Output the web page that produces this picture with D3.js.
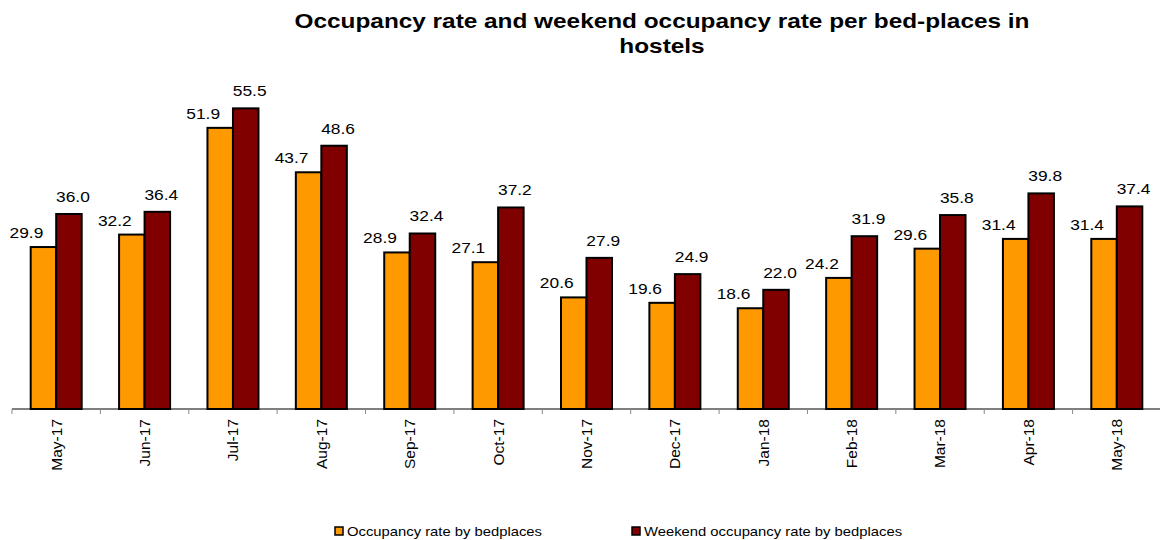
<!DOCTYPE html>
<html><head><meta charset="utf-8">
<script src="https://cdn.jsdelivr.net/npm/d3@7/dist/d3.min.js"></script>
<style>body{margin:0;background:#fff}svg{display:block}text{font-family:"Liberation Sans",Arial,sans-serif}</style>
</head><body>
<svg id="c" width="1160" height="540"></svg>
<script>
const categories = ["May-17","Jun-17","Jul-17","Aug-17","Sep-17","Oct-17","Nov-17","Dec-17","Jan-18","Feb-18","Mar-18","Apr-18","May-18"];
const occupancy = [29.9,32.2,51.9,43.7,28.9,27.1,20.6,19.6,18.6,24.2,29.6,31.4,31.4];
const weekend = [36.0,36.4,55.5,48.6,32.4,37.2,27.9,24.9,22.0,31.9,35.8,39.8,37.4];
const seriesNames = ["Occupancy rate by bedplaces","Weekend occupancy rate by bedplaces"];
const colors = ["#FF9900","#800000"];
const titleLines = ["Occupancy rate and weekend occupancy rate per bed-places in","hostels"];

const svg = d3.select("#c");
const x0 = 12, x1 = 1161, yBase = 409;
const x = d3.scaleBand().domain(categories).range([x0, x1]).paddingInner(0).paddingOuter(0);
const inner = d3.scaleBand().domain([0,1]).range([0, x.bandwidth()]).paddingOuter(0.733).paddingInner(0);
const y = d3.scaleLinear().domain([0, 1]).range([yBase, yBase - 5.417]);

// title
svg.append("g").selectAll("text").data(titleLines).join("text")
  .attr("transform", (d,i)=>`translate(662,${28 + i*25}) scale(1.16,1)`)
  .attr("text-anchor","middle").attr("font-weight","bold").attr("font-size", 21).attr("fill","#000")
  .text(d=>d);

const series = [occupancy, weekend];
const g = svg.append("g");
series.forEach((vals, si) => {
  g.selectAll(null).data(vals).join("rect")
    .attr("x", (d,i)=>x(categories[i]) + inner(si))
    .attr("y", d=>y(d))
    .attr("width", inner.bandwidth())
    .attr("height", d=>yBase - y(d))
    .attr("fill", colors[si]).attr("stroke","#000").attr("stroke-width",2);
});
// labels
const lblOff = [{dx:-17, gap:9},{dx:4, gap:12}];
series.forEach((vals, si) => {
  g.selectAll(null).data(vals).join("text")
    .attr("transform", (d,i)=>`translate(${x(categories[i]) + inner(si) + inner.bandwidth()/2 + lblOff[si].dx},${y(d) - lblOff[si].gap}) scale(1.12,1)`)
    .attr("text-anchor","middle").attr("font-size",15.5).attr("fill","#000")
    .text(d=>d.toFixed(1));
});

// x axis
const axis = svg.append("g").attr("transform",`translate(0,${yBase})`);
axis.append("line").attr("x1",x0).attr("x2",x1).attr("y1",0).attr("y2",0).attr("stroke","#000").attr("stroke-width",1.2);
const ticks = categories.map(c=>x(c)).concat([x1]);
axis.selectAll(".tk").data(ticks).join("line").attr("class","tk")
  .attr("x1",d=>d).attr("x2",d=>d).attr("y1",0).attr("y2",5).attr("stroke","#888").attr("stroke-width",1);
axis.selectAll(".lb").data(categories).join("text").attr("class","lb")
  .attr("transform", d=>`translate(${x(d)+x.bandwidth()/2},10) rotate(-90)`)
  .attr("text-anchor","end").attr("dy","0.35em").attr("font-size",15.5).attr("fill","#000")
  .text(d=>d);

// legend
const legX = [335, 632];
const leg = svg.append("g");
seriesNames.forEach((n,i)=>{
  leg.append("rect").attr("x",legX[i]).attr("y",527).attr("width",8).attr("height",8)
    .attr("fill",colors[i]).attr("stroke","#000").attr("stroke-width",1.5);
  leg.append("text").attr("transform",`translate(${legX[i]+12},535.5) scale(1.14,1)`)
    .attr("font-size",13).attr("fill","#000").text(n);
});
</script>
</body></html>
